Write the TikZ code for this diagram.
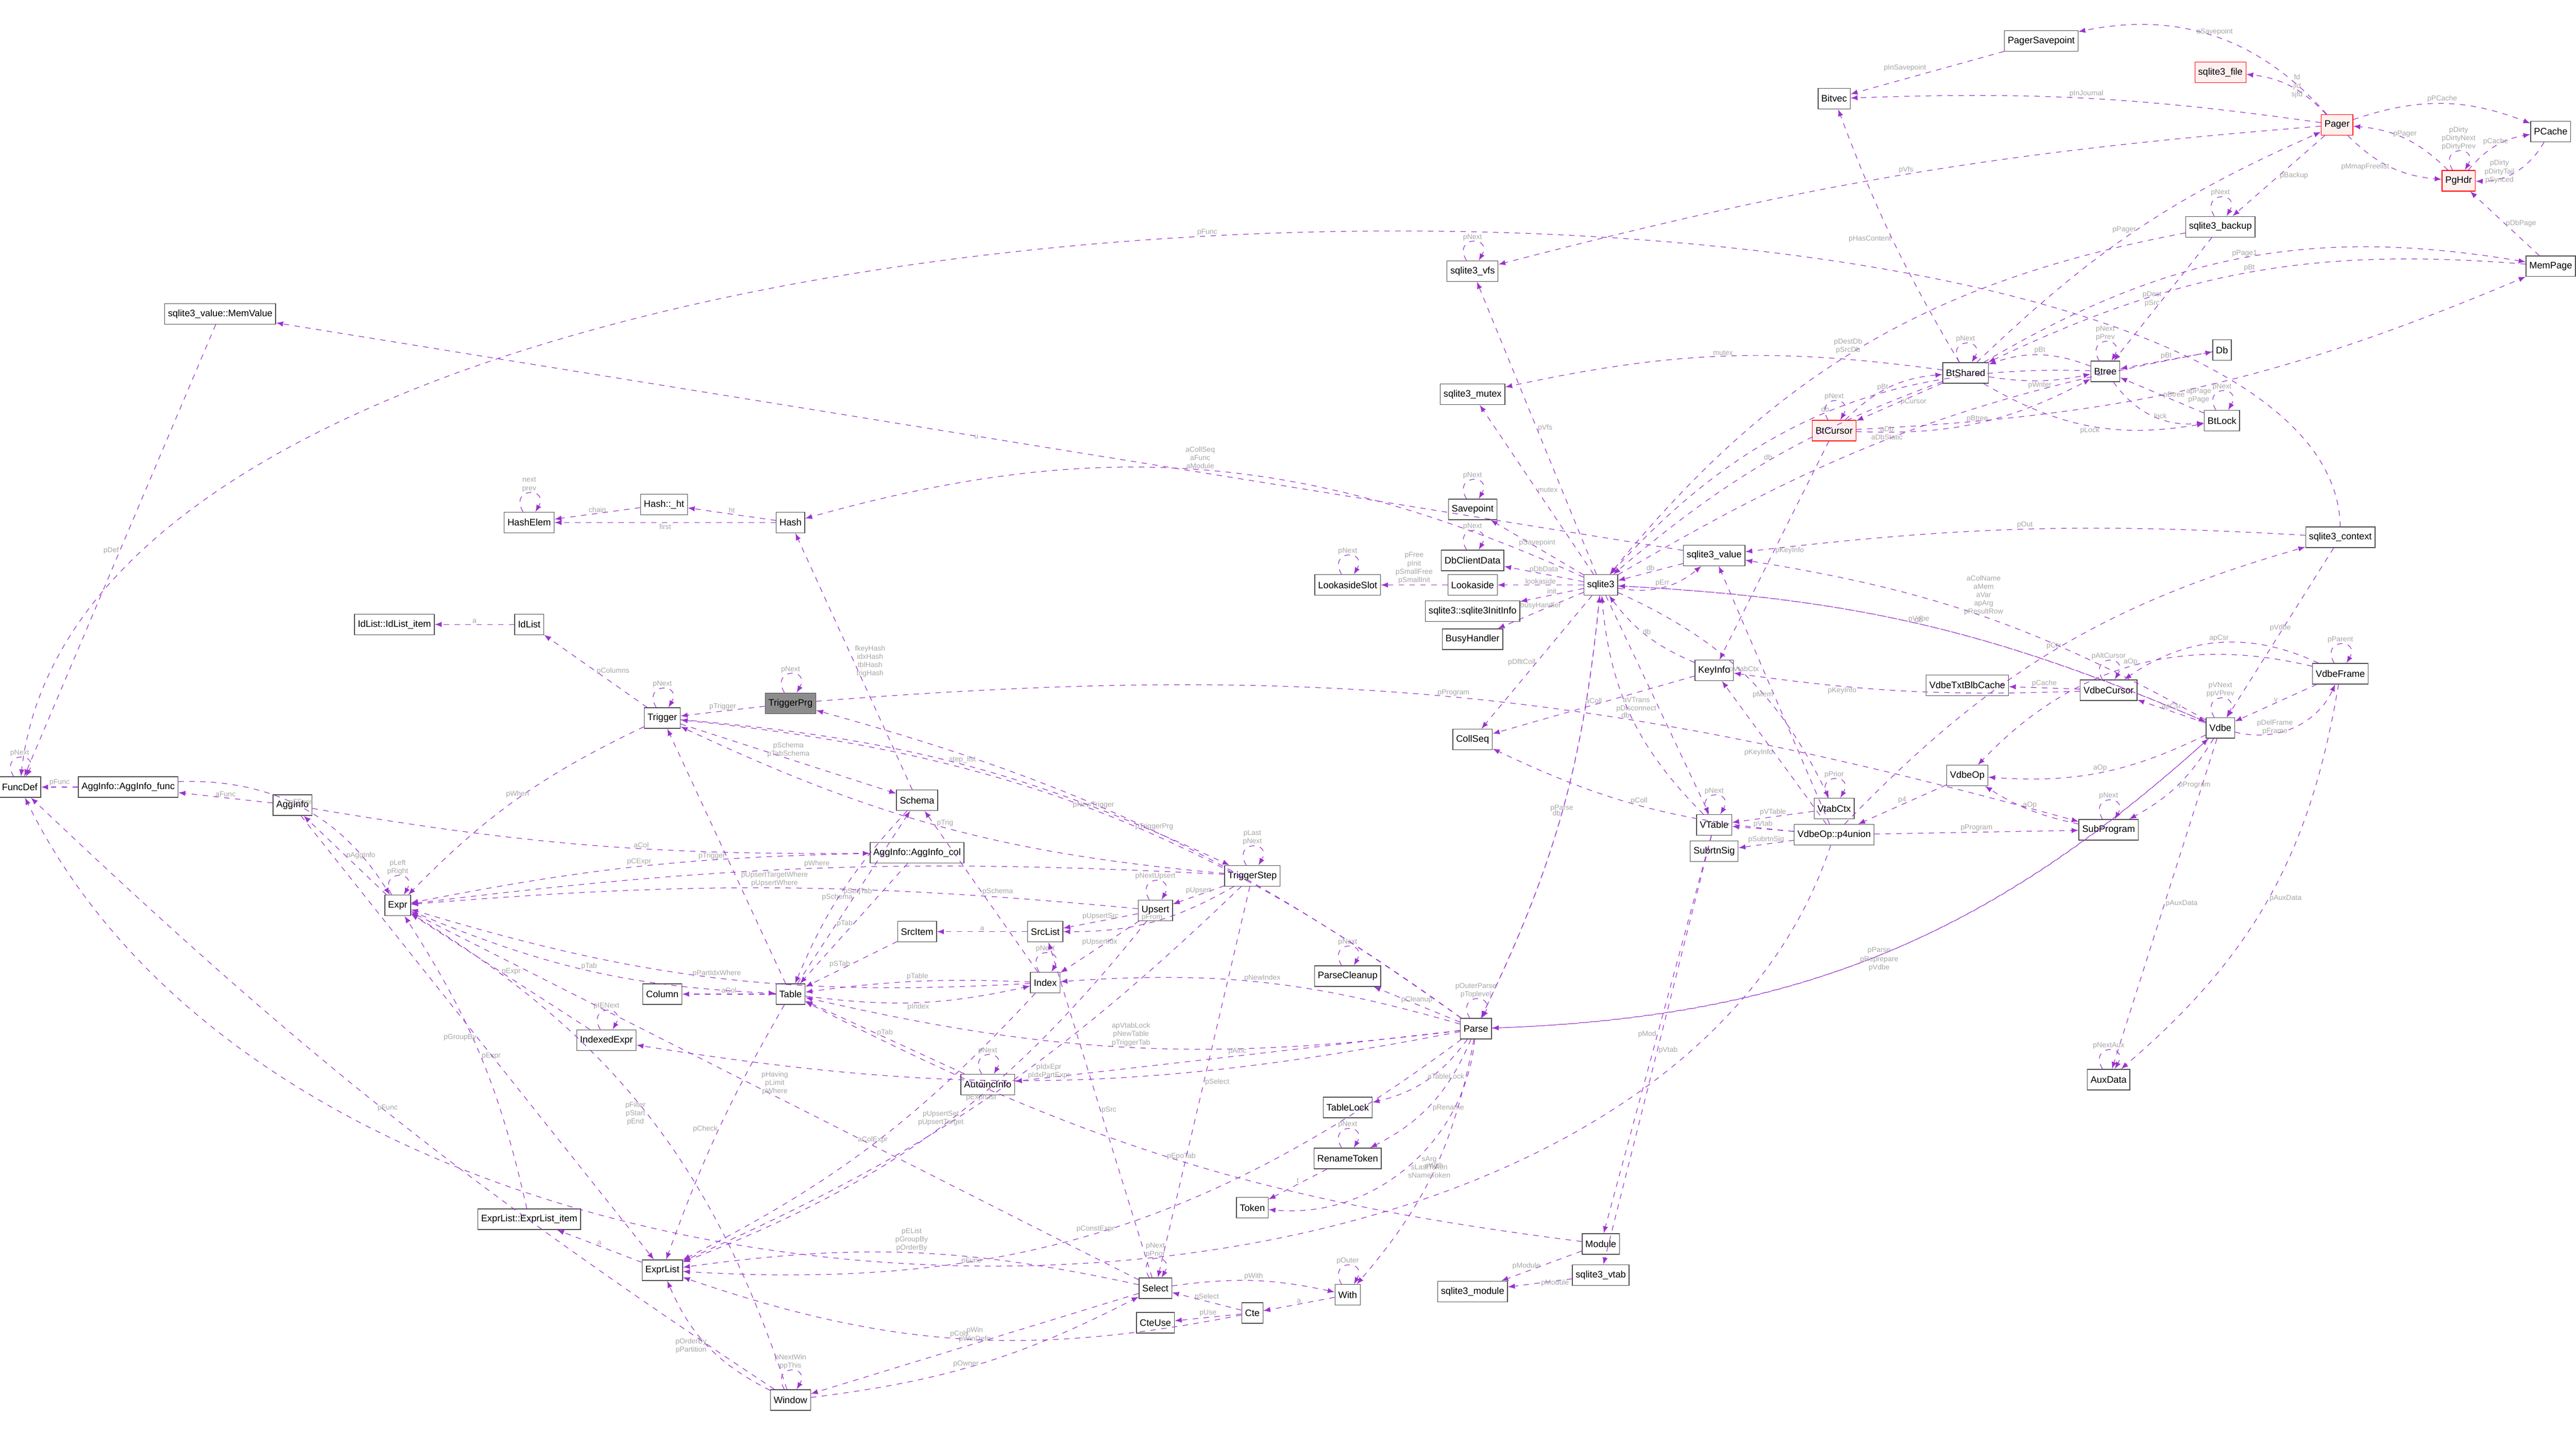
\documentclass[tikz,border=0pt]{standalone}
\usepackage{fontspec}
\setmainfont{Liberation Sans}
\usetikzlibrary{positioning,arrows.meta}
\definecolor{refcol}{HTML}{9A32CD}
\tikzset{
  cls/.style={draw=black!70, fill=white, font=\fontsize{5.2}{6}\selectfont, inner sep=1.8pt, minimum height=0.4cm},
  redcls/.style={cls, draw=red, fill=red!6},
  curcls/.style={cls, fill=black!45},
  ref/.style={->, dashed, refcol, line width=0.35pt},
  lbl/.style={font=\fontsize{4}{4.6}\selectfont, text=black!35, align=center, inner sep=0.5pt, fill=none},
  selfref/.style={ref, looseness=6, in=60, out=120}
}
\begin{document}
\begin{tikzpicture}[x=0.0319cm, y=-0.0319cm, >=latex]
\useasboundingbox (0,0) rectangle (1567.4,882.4);

% storage and pager side
\path (1242,25) node[cls] (pgrsp) {PagerSavepoint}
 (1116,60) node[cls] (bitvec) {Bitvec}
 (1351,44) node[redcls] (vfile) {sqlite3\_file}
 (1422,76) node[redcls] (pager) {Pager}
 (1552,80) node[cls] (pcache) {PCache}
 (1496,110) node[redcls] (pghdr) {PgHdr}
 (1351,138) node[cls] (backup) {sqlite3\_backup}
 (896,165) node[cls] (vfs) {sqlite3\_vfs}
 (1552,162) node[cls] (mempage) {MemPage}
 (134,191) node[cls] (memval) {sqlite3\_value::MemValue}
 (1352,213) node[cls] (db) {Db}
 (1196,227) node[cls] (btshared) {BtShared}
 (1281,226) node[cls] (btree) {Btree}
 (896,240) node[cls] (mutex) {sqlite3\_mutex}
 (1116,262) node[redcls] (btcursor) {BtCursor}
 (1352,256) node[cls] (btlock) {BtLock};

% connection
\path (404,307) node[cls] (hashht) {Hash::\_ht}
 (322,318) node[cls] (hashelem) {HashElem}
 (481,318) node[cls] (hash) {Hash}
 (896,310) node[cls] (savept) {Savepoint}
 (896,341) node[cls] (clientdata) {DbClientData}
 (1043,338) node[cls] (value) {sqlite3\_value}
 (1424,327) node[cls] (context) {sqlite3\_context}
 (820,356) node[cls] (laslot) {LookasideSlot}
 (896,356) node[cls] (lookaside) {Lookaside}
 (974,356) node[cls] (sqlite) {sqlite3}
 (896,372) node[cls] (initinfo) {sqlite3::sqlite3InitInfo}
 (896,389) node[cls] (busy) {BusyHandler}
 (240,380) node[cls] (iditem) {IdList::IdList\_item}
 (322,380) node[cls] (idlist) {IdList}
 (1043,408) node[cls] (keyinfo) {KeyInfo}
 (896,450) node[cls] (collseq) {CollSeq};

% vdbe
\path (1197,417) node[cls] (blbcache) {VdbeTxtBlbCache}
 (1283,420) node[cls] (vcursor) {VdbeCursor}
 (1424,410) node[cls] (vframe) {VdbeFrame}
 (1351,443) node[cls] (vdbe) {Vdbe}
 (1197,472) node[cls] (vdbeop) {VdbeOp}
 (1116,492) node[cls] (vtabctx) {VtabCtx}
 (1043,502) node[cls] (vtable) {VTable}
 (1116,508) node[cls] (p4) {VdbeOp::p4union}
 (1283,505) node[cls] (subprog) {SubProgram}
 (1043,518) node[cls] (subrtn) {SubrtnSig}
 (1283,657) node[cls] (auxdata) {AuxData};

% parser side
\path (481,428) node[curcls] (trigprg) {TriggerPrg}
 (403,437) node[cls] (trigger) {Trigger}
 (12,479) node[cls] (funcdef) {FuncDef}
 (78,479) node[cls] (aggfunc) {AggInfo::AggInfo\_func}
 (178,490) node[cls] (agginfo) {AggInfo}
 (558,487) node[cls] (schema) {Schema}
 (558,519) node[cls] (aggcol) {AggInfo::AggInfo\_col}
 (762,533) node[cls] (trigstep) {TriggerStep}
 (242,551) node[cls] (expr) {Expr}
 (703,554) node[cls] (upsert) {Upsert}
 (558,567) node[cls] (srcitem) {SrcItem}
 (636,567) node[cls] (srclist) {SrcList}
 (820,594) node[cls] (cleanup) {ParseCleanup}
 (636,598) node[cls] (index) {Index}
 (403,605) node[cls] (column) {Column}
 (481,605) node[cls] (table) {Table}
 (898,626) node[cls] (parse) {Parse}
 (369,633) node[cls] (idxexpr) {IndexedExpr}
 (601,660) node[cls] (autoinc) {AutoincInfo}
 (820,674) node[cls] (tablelock) {TableLock}
 (820,705) node[cls] (rename) {RenameToken}
 (762,735) node[cls] (token) {Token}
 (974,757) node[cls] (module) {Module}
 (974,776) node[cls] (vtab) {sqlite3\_vtab}
 (322,742) node[cls] (elitem) {ExprList::ExprList\_item}
 (403,773) node[cls] (exprlist) {ExprList}
 (703,784) node[cls] (select) {Select}
 (896,786) node[cls] (vmodule) {sqlite3\_module}
 (820,788) node[cls] (with) {With}
 (762,799) node[cls] (cte) {Cte}
 (703,805) node[cls] (cteuse) {CteUse}
 (481,852) node[cls] (window) {Window};

% pager edges
\draw[ref] (pgrsp) -- node[lbl, above left] {pInSavepoint} (bitvec);
\draw[ref] (pager) to[bend right=30] node[lbl, above] {aSavepoint} (pgrsp);
\draw[ref] (pager) to[bend right=20] node[lbl, right] {fd\\jfd\\sjfd} (vfile);
\draw[ref] (pager) to[bend right=5] node[lbl, above] {pInJournal} (bitvec);
\draw[ref] (pager) to[bend left=20] node[lbl, above] {pPCache} (pcache);
\draw[ref] (pager) to[bend right=20] node[lbl, left] {pMmapFreelist} (pghdr);
\draw[ref] (pghdr) to[bend right=20] node[lbl, above] {pPager} (pager);
\draw[ref] (pghdr) to[selfref] node[lbl, above] {pDirty\\pDirtyNext\\pDirtyPrev} (pghdr);
\draw[ref] (pcache) to[bend left=30] node[lbl, left] {pDirty\\pDirtyTail\\pSynced} (pghdr);
\draw[ref] (pghdr) to[bend left=20] node[lbl, above] {pCache} (pcache);
\draw[ref] (mempage) -- node[lbl, right] {pDbPage} (pghdr);
\draw[ref] (pager) -- node[lbl, right] {pBackup} (backup);
\draw[ref] (backup) to[selfref] node[lbl, above] {pNext} (backup);
\draw[ref] (backup) to[bend right=20] node[lbl, left] {pDestDb\\pSrcDb} (sqlite);
\draw[ref] (backup) -- node[lbl, left] {pDest\\pSrc} (btree);
\draw[ref] (btshared) to[bend left=10] node[lbl, left] {pPager} (pager);
\draw[ref] (pager) to[bend right=5] node[lbl, above] {pVfs} (vfs);
\draw[ref] (sqlite) -- node[lbl, right] {pVfs} (vfs);
\draw[ref] (vfs) to[selfref] node[lbl, above] {pNext} (vfs);
\draw[ref] (btshared) to[bend left=5] node[lbl, left] {pHasContent} (bitvec);
\draw[ref] (btshared) to[bend left=20] node[lbl, above] {pPage1} (mempage);
\draw[ref] (mempage) to[bend right=15] node[lbl, above] {pBt} (btshared);
\draw[ref] (btshared) to[selfref] node[lbl, above] {pNext} (btshared);
\draw[ref] (btree) to[bend right=20] node[lbl, above] {pBt} (btshared);
\draw[ref] (btshared) to[bend right=10] node[lbl, below] {pWriter} (btree);
\draw[ref] (btree) to[selfref] node[lbl, above] {pNext\\pPrev} (btree);
\draw[ref] (db) -- node[lbl, above] {pBt} (btree);
\draw[ref] (btshared) -- node[lbl, right] {pCursor} (btcursor);
\draw[ref] (btcursor) to[bend left=20] node[lbl, left] {pBt} (btshared);
\draw[ref] (btcursor) to[bend right=15] node[lbl, above] {pBtree} (btree);
\draw[ref] (btcursor) to[selfref] node[lbl, above] {pNext} (btcursor);
\draw[ref] (btcursor) to[bend right=10] node[lbl, below] {apPage\\pPage} (mempage);
\draw[ref] (btshared) to[bend right=20] node[lbl, below] {pLock} (btlock);
\draw[ref] (btlock) -- node[lbl, right] {pBtree} (btree);
\draw[ref] (btree) to[bend right=30] node[lbl, right] {lock} (btlock);
\draw[ref] (btlock) to[selfref] node[lbl, above] {pNext} (btlock);
\draw[ref] (sqlite) to[bend left=10] node[lbl, left] {aDb\\aDbStatic} (db);
\draw[ref] (btree) to[bend right=25] node[lbl, above] {db} (sqlite);
\draw[ref] (btshared) to[bend right=10] node[lbl, above] {mutex} (mutex);
\draw[ref] (sqlite) -- node[lbl, right] {mutex} (mutex);
\draw[ref] (btshared) to[bend right=10] node[lbl, above] {db} (sqlite);
\draw[ref] (btcursor) -- node[lbl, right] {pKeyInfo} (keyinfo);

% sqlite3 edges
\draw[ref] (sqlite) -- node[lbl, above] {pSavepoint} (savept);
\draw[ref] (savept) to[selfref] node[lbl, above] {pNext} (savept);
\draw[ref] (sqlite) -- node[lbl, above] {pDbData} (clientdata);
\draw[ref] (clientdata) to[selfref] node[lbl, above] {pNext} (clientdata);
\draw[ref] (sqlite) -- node[lbl, above] {lookaside} (lookaside);
\draw[ref] (lookaside) -- node[lbl, above] {pFree\\pInit\\pSmallFree\\pSmallInit} (laslot);
\draw[ref] (laslot) to[selfref] node[lbl, above] {pNext} (laslot);
\draw[ref] (sqlite) -- node[lbl, above] {init} (initinfo);
\draw[ref] (sqlite) -- node[lbl, above] {busyHandler} (busy);
\draw[ref] (sqlite) -- node[lbl, left] {pDfltColl} (collseq);
\draw[ref] (value) -- node[lbl, above] {db} (sqlite);
\draw[ref] (sqlite) to[bend right=25] node[lbl, above] {pErr} (value);
\draw[ref] (keyinfo) to[bend left=15] node[lbl, above] {db} (sqlite);
\draw[ref] (keyinfo) -- node[lbl, above] {aColl} (collseq);
\draw[ref] (sqlite) -- node[lbl, left] {aVTrans\\pDisconnect} (vtable);
\draw[ref] (vtable) to[bend left=20] node[lbl, left] {db} (sqlite);
\draw[ref] (vtable) to[selfref] node[lbl, above] {pNext} (vtable);
\draw[ref] (sqlite) to[bend left=20] node[lbl, above] {pVtabCtx} (vtabctx);
\draw[ref] (vtabctx) to[selfref] node[lbl, above] {pPrior} (vtabctx);
\draw[ref] (vtabctx) -- node[lbl, above] {pVTable} (vtable);
\draw[ref] (hash) -- node[lbl, below] {first} (hashelem);
\draw[ref] (hash) -- node[lbl, above] {ht} (hashht);
\draw[ref] (hashht) -- node[lbl, above] {chain} (hashelem);
\draw[ref] (hashelem) to[selfref] node[lbl, above] {next\\prev} (hashelem);
\draw[ref] (schema) -- node[lbl, right] {fkeyHash\\idxHash\\tblHash\\trigHash} (hash);
\draw[ref] (sqlite) to[bend right=20] node[lbl, above] {aCollSeq\\aFunc\\aModule} (hash);
\draw[ref] (value) -- node[lbl, left] {u} (memval);
\draw[ref] (memval) -- node[lbl, left] {pDef} (funcdef);
\draw[ref] (sqlite) to[bend left=10] node[lbl, above] {pParse} (parse);
\draw[ref] (sqlite) to[bend left=10] node[lbl, above] {pVdbe} (vdbe);

% vdbe edges
\draw[ref] (p4) -- node[lbl, above] {pVtab} (vtable);
\draw[ref] (p4) -- node[lbl, above] {pSubrtnSig} (subrtn);
\draw[ref] (p4) -- node[lbl, left] {pKeyInfo} (keyinfo);
\draw[ref] (p4) -- node[lbl, left] {pMem} (value);
\draw[ref] (p4) to[bend left=10] node[lbl, above] {pColl} (collseq);
\draw[ref] (p4) .. controls (1000,860) and (200,860) .. node[lbl, above] {pFunc} (funcdef);
\draw[ref] (p4) -- node[lbl, above] {pProgram} (subprog);
\draw[ref] (p4) to[bend left=15] node[lbl, above] {pCtx} (context);
\draw[ref] (vdbeop) -- node[lbl, above] {p4} (p4);
\draw[ref] (subprog) to[bend left=10] node[lbl, above] {aOp} (vdbeop);
\draw[ref] (subprog) to[selfref] node[lbl, above] {pNext} (subprog);
\draw[ref] (vdbe) to[bend left=15] node[lbl, right] {pProgram} (subprog);
\draw[ref] (vdbe) to[bend left=15] node[lbl, above] {aOp} (vdbeop);
\draw[ref] (vdbe) -- node[lbl, above] {apCsr} (vcursor);
\draw[ref] (vcursor) -- node[lbl, above] {pCache} (blbcache);
\draw[ref] (vcursor) to[bend left=5] node[lbl, below, pos=0.7] {pKeyInfo} (keyinfo);
\draw[ref] (vcursor) to[selfref] node[lbl, above] {pAltCursor} (vcursor);
\draw[ref] (vframe) to[bend right=30] node[lbl, above] {apCsr} (vcursor);
\draw[ref] (vframe) to[bend right=30] node[lbl, above] {aOp} (vdbeop);
\draw[ref] (vframe) -- node[lbl, above] {v} (vdbe);
\draw[ref] (vdbe) to[bend right=40] node[lbl, left] {pDelFrame\\pFrame} (vframe);
\draw[ref] (vframe) to[selfref] node[lbl, above] {pParent} (vframe);
\draw[ref] (vframe) to[bend left=20] node[lbl, right] {pAuxData} (auxdata);
\draw[ref] (vdbe) -- node[lbl, right] {pAuxData} (auxdata);
\draw[ref] (auxdata) to[selfref] node[lbl, above] {pNextAux} (auxdata);
\draw[ref] (vdbe) to[selfref] node[lbl, above] {pVNext\\ppVPrev} (vdbe);
\draw[ref] (vdbe) to[bend right=10] node[lbl, above] {db} (sqlite);
\draw[ref] (vdbe) to[bend right=10] node[lbl, above] {aColName\\aMem\\aVar\\apArg\\pResultRow} (value);
\draw[ref] (context) -- node[lbl, above] {pVdbe} (vdbe);
\draw[ref] (context) to[bend right=5] node[lbl, above] {pOut} (value);
\draw[ref] (context) .. controls (1420,60) and (60,60) .. node[lbl, above] {pFunc} (funcdef);
\draw[ref] (vdbe) to[bend left=20] node[lbl, above] {pParse} (parse);
\draw[ref] (parse) to[bend right=20] node[lbl, below] {pReprepare\\pVdbe} (vdbe);
\draw[ref] (trigprg) to[bend left=10] node[lbl, above] {pProgram} (subprog);

% parse edges
\draw[ref] (parse) to[bend right=10] node[lbl, left] {db} (sqlite);
\draw[ref] (parse) to[selfref] node[lbl, above] {pOuterParse\\pToplevel} (parse);
\draw[ref] (parse) -- node[lbl, above] {pCleanup} (cleanup);
\draw[ref] (cleanup) to[selfref] node[lbl, above] {pNext} (cleanup);
\draw[ref] (parse) to[bend left=20] node[lbl, above right] {aTableLock} (tablelock);
\draw[ref] (parse) to[bend left=20] node[lbl, below right] {pRename} (rename);
\draw[ref] (rename) to[selfref] node[lbl, above] {pNext} (rename);
\draw[ref] (rename) -- node[lbl, above] {t} (token);
\draw[ref] (parse) to[bend left=45] node[lbl, right] {sArg\\sLastToken\\sNameToken} (token);
\draw[ref] (parse) to[bend left=15] node[lbl, above] {pWith} (with);
\draw[ref] (parse) to[bend right=10] node[lbl, above] {pNewIndex} (index);
\draw[ref] (parse) to[bend left=10] node[lbl, above] {apVtabLock\\pNewTable\\pTriggerTab} (table);
\draw[ref] (parse) -- node[lbl, above] {pAinc} (autoinc);
\draw[ref] (parse) to[bend right=10] node[lbl, above] {pTriggerPrg} (trigprg);
\draw[ref] (parse) to[bend right=15] node[lbl, above] {pNewTrigger} (trigger);
\draw[ref] (parse) to[bend left=20] node[lbl, above] {pConstExpr} (exprlist);
\draw[ref] (parse) to[bend left=10] node[lbl, above] {pIdxEpr\\pIdxPartExpr} (idxexpr);
\draw[ref] (module) -- node[lbl, left] {pModule} (vmodule);
\draw[ref] (vtab) -- node[lbl, right] {pModule} (vmodule);
\draw[ref] (module) to[bend left=10] node[lbl, above] {pEpoTab} (table);
\draw[ref] (vtable) -- node[lbl, right] {pVtab} (vtab);
\draw[ref] (vtable) -- node[lbl, left] {pMod} (module);

% trigger, schema, table
\draw[ref] (idlist) -- node[lbl, above] {a} (iditem);
\draw[ref] (trigger) -- node[lbl, right] {pColumns} (idlist);
\draw[ref] (trigger) to[selfref] node[lbl, above] {pNext} (trigger);
\draw[ref] (trigprg) -- node[lbl, above] {pTrigger} (trigger);
\draw[ref] (trigprg) to[selfref] node[lbl, above] {pNext} (trigprg);
\draw[ref] (trigger) to[bend right=10] node[lbl, above] {pWhen} (expr);
\draw[ref] (trigger) -- node[lbl, above] {pSchema\\pTabSchema} (schema);
\draw[ref] (trigger) to[bend left=10] node[lbl, above] {step\_list} (trigstep);
\draw[ref] (trigstep) to[bend left=10] node[lbl, above] {pTrig} (trigger);
\draw[ref] (trigstep) to[selfref] node[lbl, above] {pLast\\pNext} (trigstep);
\draw[ref] (trigstep) -- node[lbl, above] {pUpsert} (upsert);
\draw[ref] (trigstep) to[bend left=15] node[lbl, above] {pFrom} (srclist);
\draw[ref] (trigstep) -- node[lbl, right] {pSelect} (select);
\draw[ref] (trigstep) to[bend right=5] node[lbl, above] {pWhere} (expr);
\draw[ref] (trigstep) to[bend left=10] node[lbl, above] {pExprList} (exprlist);
\draw[ref] (upsert) to[selfref] node[lbl, above] {pNextUpsert} (upsert);
\draw[ref] (upsert) -- node[lbl, above] {pUpsertSrc} (srclist);
\draw[ref] (upsert) -- node[lbl, above] {pUpsertIdx} (index);
\draw[ref] (upsert) to[bend right=5] node[lbl, above] {pUpsertTargetWhere\\pUpsertWhere} (expr);
\draw[ref] (upsert) to[bend left=15] node[lbl, above] {pUpsertSet\\pUpsertTarget} (exprlist);
\draw[ref] (srclist) -- node[lbl, above] {a} (srcitem);
\draw[ref] (srcitem) -- node[lbl, left] {pSTab} (table);
\draw[ref] (index) to[bend right=5] node[lbl, above] {pTable} (table);
\draw[ref] (table) to[bend right=10] node[lbl, below] {pIndex} (index);
\draw[ref] (index) to[selfref] node[lbl, above] {pNext} (index);
\draw[ref] (index) -- node[lbl, right] {pSchema} (schema);
\draw[ref] (index) to[bend left=10] node[lbl, above] {pPartIdxWhere} (expr);
\draw[ref] (index) to[bend left=10] node[lbl, above] {aColExpr} (exprlist);
\draw[ref] (table) -- node[lbl, above] {aCol} (column);
\draw[ref] (table) -- node[lbl, left] {pSchema} (schema);
\draw[ref] (schema) to[bend right=10] node[lbl, right] {pSeqTab} (table);
\draw[ref] (table) to[bend right=5] node[lbl, left] {pCheck} (exprlist);
\draw[ref] (table) -- node[lbl, left] {pTrigger} (trigger);
\draw[ref] (aggcol) -- node[lbl, left] {pTab} (table);
\draw[ref] (agginfo) to[bend right=5] node[lbl, above, pos=0.6] {aCol} (aggcol);
\draw[ref] (agginfo) -- node[lbl, above] {aFunc} (aggfunc);
\draw[ref] (aggfunc) -- node[lbl, above] {pFunc} (funcdef);
\draw[ref] (aggfunc) to[bend left=30] node[lbl, above] {pFExpr} (expr);
\draw[ref] (aggcol) to[bend right=5] node[lbl, above] {pCExpr} (expr);
\draw[ref] (expr) -- node[lbl, right] {pAggInfo} (agginfo);
\draw[ref] (expr) to[selfref] node[lbl, above] {pLeft\\pRight} (expr);
\draw[ref] (expr) to[bend right=10] node[lbl, above] {pTab} (table);
\draw[ref] (autoinc) -- node[lbl, above] {pTab} (table);
\draw[ref] (autoinc) to[selfref] node[lbl, above] {pNext} (autoinc);
\draw[ref] (funcdef) to[selfref] node[lbl, above] {pNext} (funcdef);
\draw[ref] (exprlist) -- node[lbl, above] {a} (elitem);
\draw[ref] (elitem) to[bend right=10] node[lbl, right] {pExpr} (expr);
\draw[ref] (idxexpr) -- node[lbl, right] {pExpr} (expr);
\draw[ref] (idxexpr) to[selfref] node[lbl, above] {pIENext} (idxexpr);
\draw[ref] (agginfo) -- node[lbl, left] {pGroupBy} (exprlist);

% select, with, window
\draw[ref] (select) to[bend right=10] node[lbl, above] {pEList\\pGroupBy\\pOrderBy} (exprlist);
\draw[ref] (select) -- node[lbl, above] {pHaving\\pLimit\\pWhere} (expr);
\draw[ref] (select) -- node[lbl, right] {pSrc} (srclist);
\draw[ref] (select) to[selfref] node[lbl, above] {pNext\\pPrior} (select);
\draw[ref] (select) to[bend left=10] node[lbl, above] {pWith} (with);
\draw[ref] (select) -- node[lbl, above] {pWin\\pWinDefn} (window);
\draw[ref] (with) to[selfref] node[lbl, above] {pOuter} (with);
\draw[ref] (with) -- node[lbl, above] {a} (cte);
\draw[ref] (cte) -- node[lbl, above] {pSelect} (select);
\draw[ref] (cte) -- node[lbl, above] {pUse} (cteuse);
\draw[ref] (cte) to[bend left=15] node[lbl, above] {pCols} (exprlist);
\draw[ref] (window) to[bend left=20] node[lbl, left] {pOrderBy\\pPartition} (exprlist);
\draw[ref] (window) to[selfref] node[lbl, above] {pNextWin\\ppThis} (window);
\draw[ref] (window) to[bend right=20] node[lbl, left] {pFilter\\pStart\\pEnd} (expr);
\draw[ref] (window) to[bend left=5] node[lbl, above] {pFunc} (funcdef);
\draw[ref] (window) to[bend right=10] node[lbl, left] {pOwner} (select);
\end{tikzpicture}
\end{document}
